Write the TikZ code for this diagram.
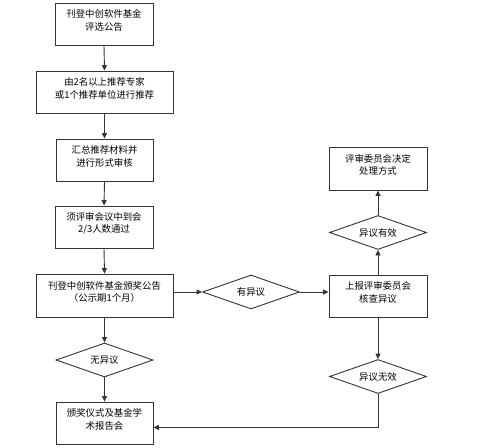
\documentclass[tikz,border=0pt]{standalone}
\usepackage{fontspec}
\setmainfont{Noto Sans CJK SC}
\usetikzlibrary{shapes.geometric,arrows.meta}
\definecolor{ln}{HTML}{333333}
\tikzset{
  box/.style={draw=ln,line width=0.9pt,rectangle,inner sep=0pt},
  dia/.style={draw=ln,line width=0.9pt,diamond,aspect=2.9,inner sep=0pt,minimum width=97pt,minimum height=34pt},
  txt/.style={align=center,font=\fontsize{9.4}{12.5}\selectfont,text=black,inner sep=0pt},
  arr/.style={draw=ln,line width=0.9pt,-{Triangle[length=5.5pt,width=5pt]}},
  ln/.style={draw=ln,line width=0.9pt}
}
\begin{document}
\begin{tikzpicture}[x=1pt,y=-1pt]
\useasboundingbox (0,0) rectangle (500,447);
% boxes
\node[box,minimum width=98pt,minimum height=42pt] (b1) at (104,24) {};
\node[box,minimum width=137pt,minimum height=42pt] (b2) at (104.5,92) {};
\node[box,minimum width=97pt,minimum height=42pt] (b3) at (104.5,160) {};
\node[box,minimum width=98pt,minimum height=42pt] (b4) at (104,227) {};
\node[box,minimum width=137pt,minimum height=43pt] (b5) at (104.5,295.5) {};
\node[box,minimum width=97pt,minimum height=42pt] (b6) at (104.5,423) {};
\node[box,minimum width=98pt,minimum height=43pt] (r1) at (378,168.5) {};
\node[box,minimum width=98pt,minimum height=42pt] (r2) at (378,296) {};
% diamonds
\node[dia] (yes) at (251,292) {};
\node[dia] (no) at (104.5,360) {};
\node[dia] (valid) at (378,232.5) {};
\node[dia] (inv) at (378,376.5) {};
% texts
\node[txt] (t1) at ([yshift=3.5]b1.center) {刊登中创软件基金\\评选公告};
\node[txt] (t2) at ([yshift=3.5]b2.center) {由2名以上推荐专家\\或1个推荐单位进行推荐};
\node[txt] (t3) at ([yshift=3.5]b3.center) {汇总推荐材料并\\进行形式审核};
\node[txt] (t4) at ([yshift=3.5]b4.center) {须评审会议中到会\\2/3人数通过};
\node[txt] (t5) at ([yshift=3.5]b5.center) {刊登中创软件基金颁奖公告\\（公示期1个月）};
\node[txt] (t6) at ([yshift=3.5]b6.center) {颁奖仪式及基金学\\术报告会};
\node[txt] (t7) at ([yshift=3.5]r1.center) {评审委员会决定\\处理方式};
\node[txt] (t8) at ([yshift=3.5]r2.center) {上报评审委员会\\核查异议};
\node[txt] (t9) at (yes.center) {有异议};
\node[txt] (t10) at (no.center) {无异议};
\node[txt] (t11) at (valid.center) {异议有效};
\node[txt] (t12) at (inv.center) {异议无效};
% connectors
\draw[arr] (b1.south) -- (b2.north);
\draw[arr] (b2.south) -- (b3.north);
\draw[arr] (b3.south) -- (b4.north);
\draw[arr] (b4.south) -- (b5.north);
\draw[arr] (b5.south) -- (no.north);
\draw[arr] (no.south) -- (b6.north);
\draw[arr] (b5.east |- yes.west) -- (yes.west);
\draw[arr] (yes.east) -- (r2.west |- yes.east);
\draw[arr] (r2.north) -- (valid.south);
\draw[arr] (valid.north) -- (r1.south);
\draw[arr] (r2.south) -- (inv.north);
\draw[arr] (inv.south) |- ([yshift=-4.5]b6.east);
\end{tikzpicture}
\end{document}
